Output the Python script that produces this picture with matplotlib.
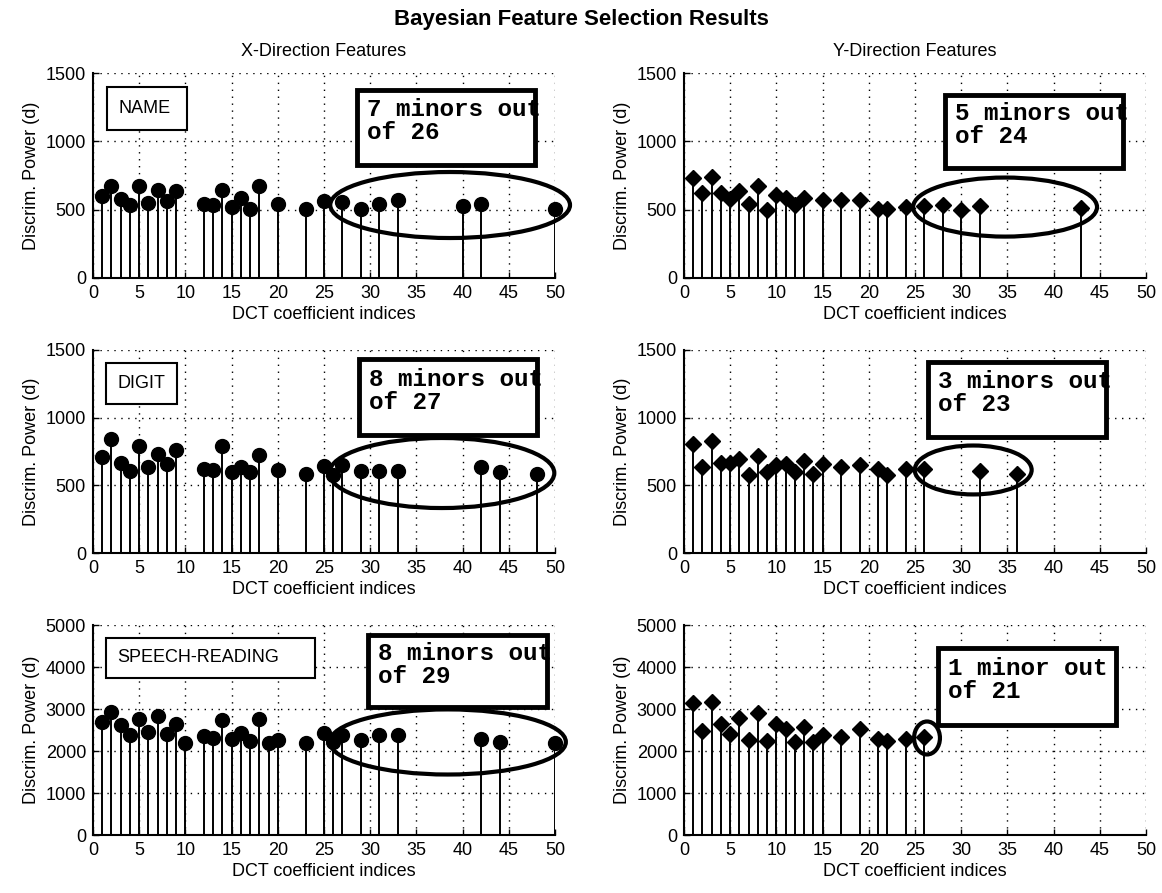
import matplotlib
matplotlib.use("Agg")
import matplotlib.pyplot as plt
from matplotlib.patches import Ellipse, Rectangle

plt.rcParams['font.family'] = ['Liberation Sans', 'DejaVu Sans']

# ---- data ----
name_x_idx = [1, 2, 3, 4, 5, 6, 7, 8, 9, 12, 13, 14, 15, 16, 17, 18, 20, 23, 25,
              27, 29, 31, 33, 40, 42, 50]
name_x_d = [603, 671, 578, 537, 671, 549, 642, 561, 634, 542, 537, 642, 520, 586,
            505, 671, 544, 505, 561, 554, 505, 542, 573, 525, 544, 505]

name_y_idx = [1, 2, 3, 4, 5, 6, 7, 8, 9, 10, 11, 12, 13, 15, 17, 19, 21, 22, 24,
              26, 28, 30, 32, 43]
name_y_d = [732, 622, 739, 622, 578, 634, 544, 671, 500, 610, 586, 537, 586, 573,
            569, 569, 505, 505, 517, 525, 537, 500, 525, 512]

digit_x_idx = [1, 2, 3, 4, 5, 6, 7, 8, 9, 12, 13, 14, 15, 16, 17, 18, 20, 23, 25,
               26, 27, 29, 31, 33, 42, 44, 48]
digit_x_d = [710, 846, 666, 607, 789, 636, 735, 656, 760, 624, 612, 789, 599, 636,
             599, 723, 612, 587, 641, 575, 649, 607, 607, 607, 636, 599, 587]

digit_y_idx = [1, 2, 3, 4, 5, 6, 7, 8, 9, 10, 11, 12, 13, 14, 15, 17, 19, 21, 22,
               24, 26, 32, 36]
digit_y_d = [808, 636, 826, 666, 666, 698, 580, 715, 599, 649, 656, 599, 680, 587,
             656, 636, 649, 617, 575, 617, 624, 607, 587]

speech_x_idx = [1, 2, 3, 4, 5, 6, 7, 8, 9, 10, 12, 13, 14, 15, 16, 17, 18, 19, 20,
                23, 25, 26, 27, 29, 31, 33, 42, 44, 50]
speech_x_d = [2680, 2920, 2616, 2376, 2760, 2456, 2824, 2400, 2640, 2200, 2360,
              2320, 2744, 2296, 2440, 2240, 2760, 2200, 2264, 2200, 2440, 2216,
              2376, 2264, 2376, 2376, 2296, 2216, 2200]

speech_y_idx = [1, 2, 3, 4, 5, 6, 7, 8, 9, 10, 11, 12, 13, 14, 15, 17, 19, 21, 22,
                24, 26]
speech_y_d = [3150, 2480, 3165, 2640, 2400, 2795, 2267, 2897, 2243, 2640, 2520,
              2220, 2560, 2220, 2377, 2345, 2520, 2283, 2243, 2283, 2322]

labels = ['NAME', 'DIGIT', 'SPEECH-READING']
notes_x = ['7 minors out\nof 26', '8 minors out\nof 27', '8 minors out\nof 29']
notes_y = ['5 minors out\nof 24', '3 minors out\nof 23', '1 minor out\nof 21']
ylims = [1500, 1500, 5000]

W, H = 1162, 893
fig = plt.figure(figsize=(W / 100, H / 100), dpi=100)

# axes boxes in pixels
cols = [(93, 555), (684, 1146)]
rows = [(73, 278), (350, 553), (625, 835)]


def make_ax(c, r):
    x0, x1 = cols[c]
    y0, y1 = rows[r]
    return fig.add_axes([x0 / W, 1 - y1 / H, (x1 - x0) / W, (y1 - y0) / H])


def style(ax, ymax):
    ax.set_xlim(0, 50)
    ax.set_ylim(0, ymax)
    ax.set_xticks(range(0, 51, 5))
    if ymax == 1500:
        ax.set_yticks([0, 500, 1000, 1500])
    else:
        ax.set_yticks(range(0, 5001, 1000))
    ax.grid(True, color='black', linestyle=(0, (1, 4)), linewidth=1.0)
    ax.spines['top'].set_visible(False)
    ax.spines['right'].set_visible(False)
    ax.spines['left'].set_linewidth(1.5)
    ax.spines['bottom'].set_linewidth(1.5)
    ax.tick_params(direction='in', length=4, width=1, labelsize=13, pad=5)
    ax.set_xlabel('DCT coefficient indices', fontsize=13, labelpad=3)
    ax.set_ylabel('Discrim. Power (d)', fontsize=13, labelpad=4)


def stems(ax, x, y, marker):
    ax.vlines(x, 0, y, colors='black', linewidth=1.4, zorder=3)
    ms = 10 if marker == 'o' else 8.5
    ax.plot(x, y, linestyle='none', marker=marker, color='black',
            markersize=ms, zorder=4, clip_on=False)
    ax.axhline(0, color='black', linewidth=2, zorder=5)


def box_text(ax, rect, txt, tx, ty, lw, font, size):
    x0, y0, x1, y1 = rect
    # white fill, text, then the border on top (the border cuts the text like the original)
    ax.add_patch(Rectangle((x0, y0), x1 - x0, y1 - y0, transform=ax.transAxes,
                           facecolor='white', edgecolor='none',
                           zorder=6, clip_on=False))
    kw = dict(transform=ax.transAxes, ha='left', va='center', fontsize=size,
              zorder=7, clip_on=False, linespacing=1.0)
    if font == 'mono':
        kw.update(family='Liberation Mono', fontweight='bold')
    ax.text(tx, ty, txt, **kw)
    ax.add_patch(Rectangle((x0, y0), x1 - x0, y1 - y0, transform=ax.transAxes,
                           fill=False, edgecolor='black', linewidth=lw,
                           zorder=8, clip_on=False))


def ellipse(ax, cx, cy, w, h):
    ax.add_patch(Ellipse((cx, cy), w, h, transform=ax.transAxes, fill=False,
                         edgecolor='black', linewidth=3, zorder=9, clip_on=False))


xdata = [(name_x_idx, name_x_d), (digit_x_idx, digit_x_d), (speech_x_idx, speech_x_d)]
ydata = [(name_y_idx, name_y_d), (digit_y_idx, digit_y_d), (speech_y_idx, speech_y_d)]

# boxes and ellipses in axes fractions
label_rects = [(0.030, 0.722, 0.203, 0.932),
               (0.028, 0.734, 0.182, 0.936),
               (0.028, 0.748, 0.481, 0.938)]
note_rects_x = [(0.571, 0.551, 0.957, 0.917),
                (0.576, 0.581, 0.961, 0.956),
                (0.595, 0.610, 0.983, 0.952)]
note_rects_y = [(0.565, 0.537, 0.950, 0.893),
                (0.528, 0.571, 0.913, 0.941),
                (0.550, 0.524, 0.935, 0.890)]
ell_x = [(0.773, 0.356, 0.519, 0.322),
         (0.755, 0.394, 0.487, 0.345),
         (0.768, 0.443, 0.511, 0.310)]
ell_y = [(0.695, 0.346, 0.398, 0.288),
         (0.626, 0.409, 0.253, 0.241),
         (0.526, 0.462, 0.056, 0.157)]

for r in range(3):
    # X-direction
    ax = make_ax(0, r)
    style(ax, ylims[r])
    stems(ax, xdata[r][0], xdata[r][1], 'o')
    lx0, ly0, lx1, ly1 = label_rects[r]
    box_text(ax, label_rects[r], labels[r], lx0 + 0.025, (ly0 + ly1) / 2, 1.5,
             'sans', 13)
    nr = note_rects_x[r]
    ellipse(ax, *ell_x[r])
    box_text(ax, nr, notes_x[r], nr[0] + 0.022, (nr[1] + nr[3]) / 2 + 0.03, 3.5,
             'mono', 17.5)
    if r == 0:
        ax.set_title('X-Direction Features', fontsize=13, pad=12)

    # Y-direction
    ax = make_ax(1, r)
    style(ax, ylims[r])
    stems(ax, ydata[r][0], ydata[r][1], 'D')
    nr = note_rects_y[r]
    ellipse(ax, *ell_y[r])
    box_text(ax, nr, notes_y[r], nr[0] + 0.022, (nr[1] + nr[3]) / 2 + 0.03, 3.5,
             'mono', 17.5)
    if r == 0:
        ax.set_title('Y-Direction Features', fontsize=13, pad=12)

fig.text(0.5, 1 - 20 / H, 'Bayesian Feature Selection Results', ha='center',
         va='center', fontsize=16, fontweight='bold')

fig.savefig('out.png', dpi=100)
